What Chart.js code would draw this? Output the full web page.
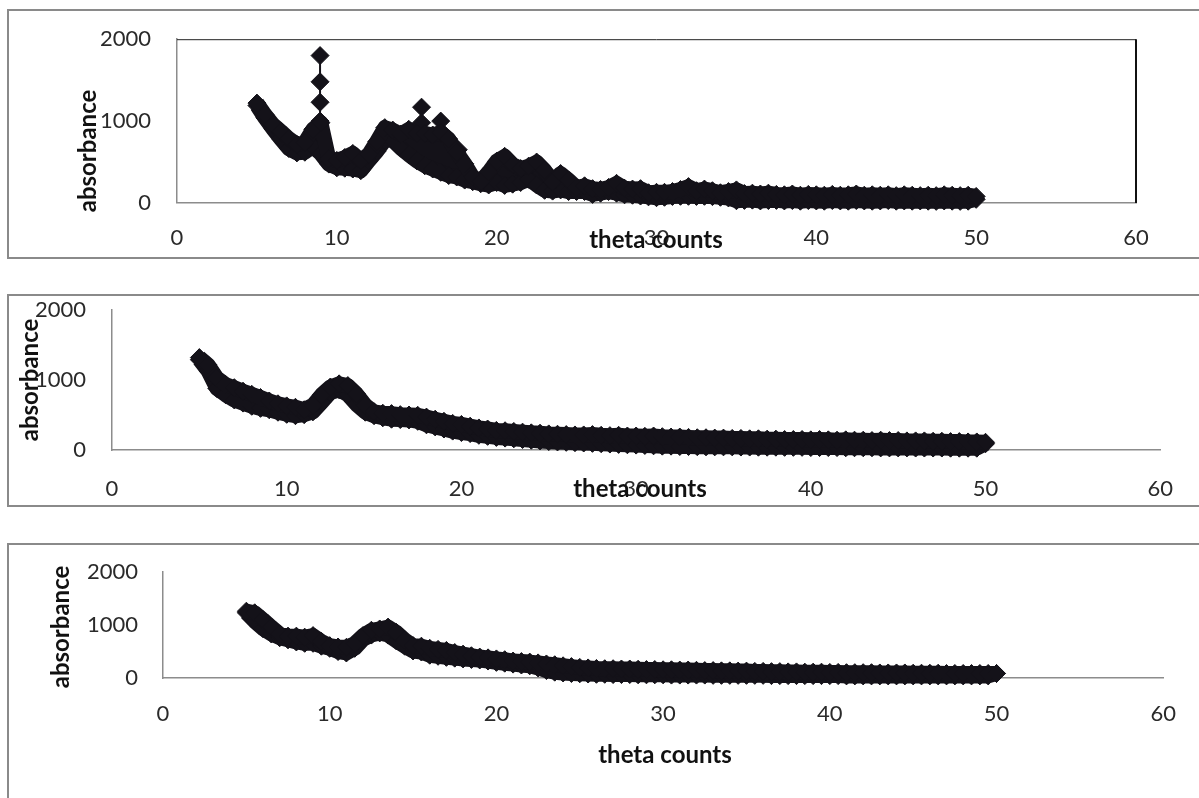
<!DOCTYPE html>
<html>
<head>
<meta charset="utf-8">
<script src="https://cdn.jsdelivr.net/npm/chart.js@4.4.1/dist/chart.umd.min.js"></script>
<style>
  html, body { margin: 0; padding: 0; background: #fff; }
  body { width: 1199px; height: 798px; position: relative; overflow: hidden; }
  .frame { position: absolute; border: 2px solid #8a8a8a; border-right: none; box-sizing: border-box; }
  canvas { position: absolute; left: 0; top: 0; }
</style>
</head>
<body>
<div class="frame" style="left:7px;top:9px;width:1200px;height:250px"></div>
<div class="frame" style="left:7px;top:294px;width:1200px;height:213px"></div>
<div class="frame" style="left:7px;top:543px;width:1200px;height:300px"></div>
<canvas id="chart1" width="1199" height="798"></canvas>
<canvas id="chart2" width="1199" height="798"></canvas>
<canvas id="chart3" width="1199" height="798"></canvas>
<script>
// 2-theta grid shared by all three scans (deg)
const theta = [5,5.5,6,6.5,7,7.5,8,8.5,9,9.5,10,10.5,11,11.5,12,12.5,13,13.5,14,14.5,
  15,15.5,16,16.5,17,17.5,18,18.5,19,19.5,20,20.5,21,21.5,22,22.5,23,23.5,24,24.5,
  25,25.5,26,26.5,27,27.5,28,28.5,29,29.5,30,30.5,31,31.5,32,32.5,33,33.5,34,34.5,
  35,35.5,36,36.5,37,37.5,38,38.5,39,39.5,40,40.5,41,41.5,42,42.5,43,43.5,44,44.5,
  45,45.5,46,46.5,47,47.5,48,48.5,49,49.5,50];

// scan 1 (top panel) - upper / lower edge of the noisy point cloud
const top1 = [1220,1080,960,875,785,715,740,900,980,540,520,555,605,520,595,750,920,890,840,900,
  850,850,830,860,780,620,480,320,262,380,510,570,470,420,450,500,400,260,360,280,
  190,210,175,165,190,240,180,170,175,125,130,130,140,165,200,150,170,150,125,140,
  160,115,120,110,120,105,100,110,95,105,100,95,105,95,100,110,95,100,95,100,
  90,100,95,90,95,90,100,95,90,95,80];
const bot1 = [1190,1040,905,780,665,612,620,690,600,475,430,425,415,395,515,630,765,765,670,590,
  515,455,415,375,335,318,280,260,235,220,250,215,230,250,290,220,155,145,160,140,
  140,140,105,120,140,120,100,95,85,75,65,70,80,82,82,80,82,78,70,62,
  28,32,35,25,30,32,25,30,22,30,25,22,30,25,22,30,25,22,25,30,
  22,25,22,25,22,20,25,22,20,22,45];
// sharp reflections of scan 1 (null splits the groups)
const spikeTheta1 = [8.95,8.95,8.95,8.95,8.95,15.3,15.3,15.3,16.5,16.5,16.5,17.6,17.6];
const spikeAbs1   = [1000,1230,1480,1800,null,980,1170,null,880,1000,null,560,650];

// scan 2 (middle panel)
const top2 = [1320,1215,1030,935,890,840,795,750,700,660,630,610,575,640,790,900,945,920,800,640,
  545,525,520,505,500,495,470,440,410,380,365,340,315,300,280,275,265,255,245,240,
  230,225,220,215,215,220,210,205,210,200,200,195,200,190,185,185,180,175,175,170,
  170,165,165,160,160,155,155,150,150,150,145,150,145,140,145,140,140,135,140,135,
  135,130,130,130,125,125,120,120,115,115,110];
const bot2 = [1290,1130,880,790,715,670,625,595,575,540,510,490,505,545,680,820,860,790,650,540,
  490,460,440,435,430,410,360,330,300,270,250,235,210,195,180,170,160,150,140,130,
  120,115,110,105,100,95,90,85,80,75,70,65,60,55,55,50,50,48,45,45,
  45,45,42,42,40,40,40,38,38,38,35,35,35,35,32,32,32,32,30,30,
  30,30,28,28,28,28,26,26,26,26,90];

// scan 3 (bottom panel)
const top3 = [1260,1230,1100,960,830,790,790,770,800,690,610,585,578,650,800,900,925,960,860,720,
  610,600,560,540,520,480,450,420,395,380,360,345,320,310,300,285,265,250,230,215,
  200,190,180,175,175,170,170,165,160,160,155,155,150,150,145,140,140,135,135,130,
  130,125,125,120,120,115,115,110,110,110,105,105,100,100,100,100,95,95,95,95,
  90,90,90,90,85,85,85,85,85,85,85];
const bot3 = [1230,1070,930,830,760,720,680,655,655,600,560,500,472,560,730,810,850,810,700,600,
  510,490,430,410,390,375,360,350,340,320,295,280,262,245,230,190,140,110,95,85,
  80,75,70,70,65,65,65,60,60,60,60,55,55,55,55,55,50,50,50,50,
  50,50,50,45,45,45,45,45,45,45,45,45,40,40,40,40,40,40,40,40,
  40,40,40,40,40,40,40,40,40,40,85];

const xTicks = [0, 10, 20, 30, 40, 50, 60];
const yTicks = [0, 1000, 2000];

const INK = '#141219';
const AXIS_GREY = '#8c8c8c';
const FONT = "Lato, 'Open Sans', sans-serif";
const TICK_FONT = { family: FONT, size: 22 };

// marker look shared by every series
const mark = {
  showLine: true,
  borderColor: INK,
  backgroundColor: INK,
  borderWidth: 15,
  borderJoinStyle: 'round',
  pointStyle: 'rectRot',
  pointRadius: 9,
  pointBorderWidth: 1,
  pointBackgroundColor: INK,
  pointBorderColor: INK,
  clip: false
};

const toPts = (xs, ys) => xs.map((x, i) => ({ x: x, y: ys[i] }));

// axis titles drawn at fixed spots so they can overlap the ticks like the original
const titlesPlugin = {
  id: 'titles',
  afterDraw(chart, args, opts) {
    const ctx = chart.ctx;
    ctx.save();
    ctx.fillStyle = '#111';
    ctx.font = 'bold 24px ' + FONT;
    ctx.textAlign = 'center';
    ctx.textBaseline = 'middle';
    ctx.fillText('theta counts', opts.xTitle[0], opts.xTitle[1]);
    ctx.translate(opts.yTitle[0], opts.yTitle[1]);
    ctx.rotate(-Math.PI / 2);
    ctx.fillText('absorbance', 0, 0);
    ctx.restore();
  }
};

// top & right edge of the plot box (panel 1 only)
const boxPlugin = {
  id: 'box',
  afterDraw(chart, args, opts) {
    if (!opts.on) return;
    const a = chart.chartArea, ctx = chart.ctx;
    ctx.save();
    ctx.strokeStyle = '#222';
    ctx.lineWidth = 1;
    ctx.beginPath();
    ctx.moveTo(a.left, a.top + 0.5);
    ctx.lineTo(a.right, a.top + 0.5);
    ctx.stroke();
    ctx.lineWidth = 2;
    ctx.strokeStyle = '#111';
    ctx.beginPath();
    ctx.moveTo(a.right, a.top);
    ctx.lineTo(a.right, a.bottom);
    ctx.stroke();
    ctx.restore();
  }
};

function makePanel(id, cfg) {
  const sets = [
    Object.assign({}, mark, { data: toPts(theta, cfg.upper), fill: false }),
    Object.assign({}, mark, { data: toPts(theta, cfg.lower), fill: '-1' })
  ];
  if (cfg.spikeX) {
    sets.push(Object.assign({}, mark, { data: toPts(cfg.spikeX, cfg.spikeY), fill: false, spanGaps: false, borderWidth: 2 }));
  }
  const area = cfg.area; // [left, top, right, bottom] of plot area in page px
  const yW = area[0] - 2;
  return new Chart(document.getElementById(id), {
    type: 'scatter',
    data: { datasets: sets },
    options: {
      responsive: false,
      animation: false,
      events: [],
      layout: {
        padding: { left: 2, top: area[1], right: 1199 - area[2], bottom: 798 - area[3] - 70 }
      },
      plugins: {
        legend: { display: false },
        tooltip: { enabled: false },
        titles: { xTitle: cfg.xTitle, yTitle: cfg.yTitle },
        box: { on: !!cfg.box }
      },
      scales: {
        x: {
          type: 'linear', min: 0, max: 60,
          afterFit: s => { s.height = 70; },
          afterBuildTicks: s => { s.ticks = xTicks.map(v => ({ value: v })); },
          grid: { display: false, drawTicks: false },
          border: { display: true, color: AXIS_GREY, width: 1.5 },
          ticks: { autoSkip: false, maxRotation: 0, padding: cfg.xPad, color: '#2a2a2a', font: TICK_FONT,
                   callback: v => String(v) }
        },
        y: {
          type: 'linear', min: 0, max: 2000,
          afterFit: s => { s.width = yW; },
          afterBuildTicks: s => { s.ticks = yTicks.map(v => ({ value: v })); },
          grid: { display: false, drawTicks: false },
          border: { display: true, color: AXIS_GREY, width: 1.5 },
          ticks: { padding: cfg.yPad, color: '#2a2a2a', font: TICK_FONT, callback: v => String(v) }
        }
      }
    },
    plugins: [titlesPlugin, boxPlugin]
  });
}

makePanel('chart1', {
  upper: top1, lower: bot1, spikeX: spikeTheta1, spikeY: spikeAbs1,
  area: [177, 33, 1136, 203], xPad: 22, yPad: 26,
  xTitle: [656, 240], yTitle: [88, 151], box: true
});
makePanel('chart2', {
  upper: top2, lower: bot2,
  area: [112, 310, 1166, 450], xPad: 26, yPad: 26,
  xTitle: [640, 489], yTitle: [30, 380]
});
makePanel('chart3', {
  upper: top3, lower: bot3,
  area: [163, 572, 1167, 678], xPad: 23, yPad: 25,
  xTitle: [665, 755], yTitle: [61, 627]
});
</script>
</body>
</html>
